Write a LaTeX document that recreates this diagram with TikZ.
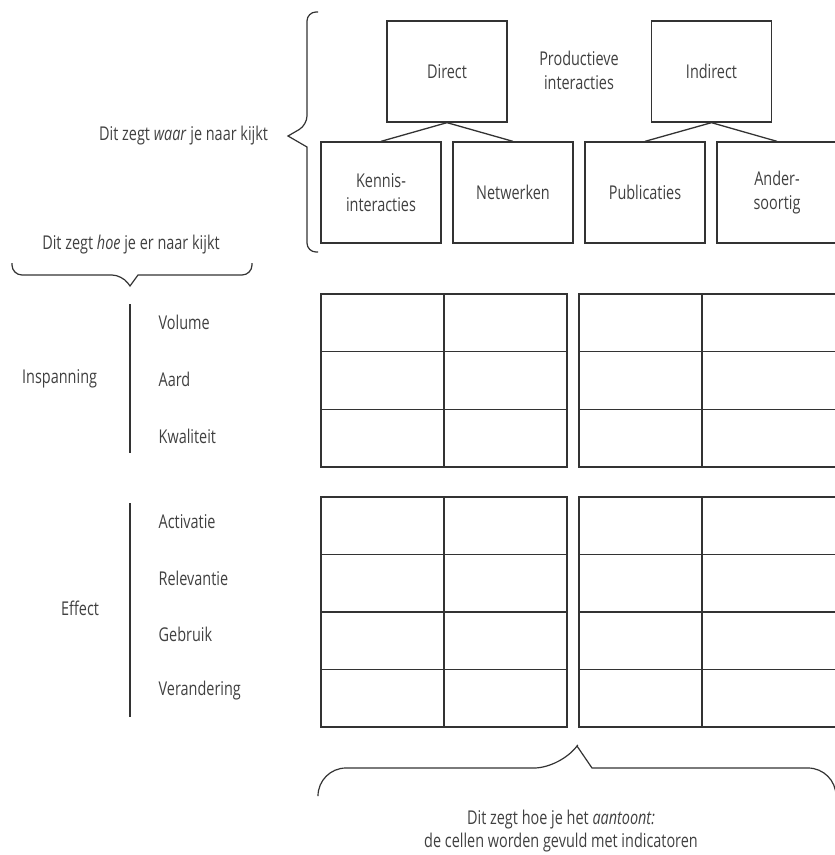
\documentclass[tikz,border=0pt]{standalone}
\usepackage{fontspec}
\setmainfont{Open Sans}[FakeStretch=0.76]
\usepackage{tikz}

\definecolor{ink}{HTML}{333333}
\definecolor{letter}{HTML}{404040}

\begin{document}
\begin{tikzpicture}[x=1pt, y=-1pt, line width=1.3pt, draw=ink, text=letter,
  font=\fontsize{19}{24}\selectfont,
  box/.style={draw, minimum width=120pt, minimum height=101pt, align=center, inner sep=0pt},
  brace/.style={draw, line width=1.2pt},
  lbl/.style={anchor=west, inner sep=0pt}]

  \path[use as bounding box] (0,0) rectangle (835,855);
  \clip (0,0) rectangle (835,855);

  % soorten interacties
  \node[box] (direct)   at (447,71.5)  {Direct};
  \node[box] (indirect) at (711.5,71.5) {Indirect};
  \node[box] (kennis)   at (381,192.5) {Kennis-\\interacties};
  \node[box] (netwerk)  at (513,192.5) {Netwerken};
  \node[box] (publ)     at (645,192.5) {Publicaties};
  \node[box] (ander)    at (777,192.5) {Ander-\\soortig};
  \node[align=center] (prod) at (579,70) {Productieve\\interacties};

  \path (direct.south)   edge (kennis.north)
        (direct.south)   edge (netwerk.north)
        (indirect.south) edge (publ.north)
        (indirect.south) edge (ander.north);

  % accolades
  \draw[brace] (318,12) [rounded corners=9pt] -- (307,12) -- (307,125) [sharp corners] -- (288,136)
    -- (307,147) [rounded corners=9pt] -- (307,252) -- (318,252);
  \node[anchor=east] (waar) at (272,136) {Dit zegt \emph{waar} je naar kijkt};

  \draw[brace] (12,263) [rounded corners=10pt] -- (12,275) -- (122,275) [sharp corners] -- (130,286)
    -- (138,275) [rounded corners=10pt] -- (252,275) -- (252,263);
  \node (hoe) at (131,245) {Dit zegt \emph{hoe} je er naar kijkt};

  \draw[brace] (318,795) [rounded corners=28pt] -- (318,768) -- (562,768) [sharp corners] -- (577,746)
    -- (592,768) [rounded corners=28pt] -- (836,768) -- (836,795);
  \node[align=center, font=\fontsize{19}{23}\selectfont] (aantoon) at (561,831)
    {Dit zegt hoe je het \emph{aantoont:}\\de cellen worden gevuld met indicatoren};

  % dimensies
  \node[anchor=east] (insp) at (101,379) {Inspanning};
  \draw (130,304) -- (130,453);
  \node[lbl] (vol)  at (158,322) {Volume};
  \node[lbl] (aard) at (158,379) {Aard};
  \node[lbl] (kwal) at (158,436) {Kwaliteit};

  \node[anchor=east] (eff) at (103,608) {Effect};
  \draw (130,503) -- (130,717);
  \node[lbl] (act) at (158,522) {Activatie};
  \node[lbl] (rel) at (158,578) {Relevantie};
  \node[lbl] (geb) at (158,634) {Gebruik};
  \node[lbl] (ver) at (158,691) {Verandering};

  % cellen
  \foreach \xo/\w in {321/246, 579/270} {
    \draw (\xo,294) rectangle ++(\w,173);
    \draw (\xo+123,294) -- (\xo+123,467);
    \foreach \yr in {351.7, 409.3}
      \draw (\xo,\yr) -- ++(\w,0);
    \draw (\xo,497) rectangle ++(\w,230);
    \draw (\xo+123,497) -- (\xo+123,727);
    \foreach \yr in {554.5, 612, 669.5}
      \draw (\xo,\yr) -- ++(\w,0);
  }
\end{tikzpicture}
\end{document}
